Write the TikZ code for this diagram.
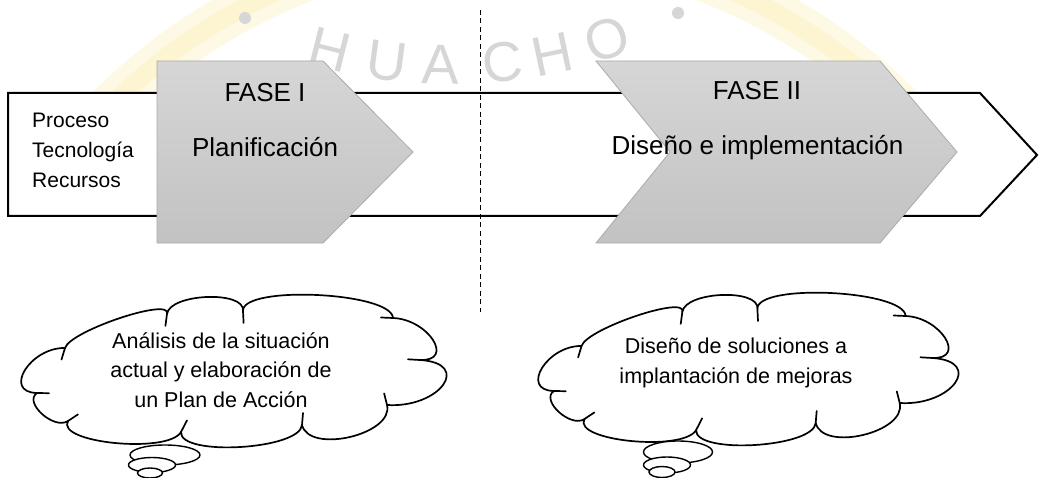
\documentclass[tikz,border=0pt]{standalone}
\usepackage{fontspec}
\setmainfont{Liberation Sans}
\usetikzlibrary{shapes.geometric,calc}
\definecolor{phasetop}{HTML}{D6D6D6}
\definecolor{phasebot}{HTML}{C2C2C2}
\definecolor{phaseedge}{HTML}{ABABAB}
\definecolor{wmgray}{HTML}{D6D6D6}
\definecolor{wmyellow}{HTML}{FEF9E4}
\definecolor{wmyellowin}{HTML}{FDF4D2}
\begin{document}
\begin{tikzpicture}[x=1pt,y=1pt,
  bigarrow/.style={draw=black, line width=2pt, fill=white, line join=miter},
  phase/.style={draw=phaseedge, line width=0.8pt, top color=phasetop, bottom color=phasebot},
  phasetitle/.style={font=\fontsize{26}{30}\selectfont, anchor=base, inner sep=0pt},
  sidetext/.style={font=\fontsize{21}{30}\selectfont, align=left, inner sep=0pt},
  cloudline/.style={draw=black, line width=1.7pt, fill=white, line join=round},
  tickline/.style={draw=black, line width=1.7pt, line cap=round},
  cloudtext/.style={font=\fontsize{21.5}{29.5}\selectfont, align=center, inner sep=0pt, anchor=base},
  bubble/.style={ellipse, draw=black, line width=1.4pt, fill=white, inner sep=0pt},
  divider/.style={draw=black, line width=0.9pt, dash pattern=on 5pt off 3.5pt},
  wmletter/.style={font=\fontsize{56}{60}\selectfont, text=wmgray, anchor=base, inner sep=0pt},
  wmdot/.style={circle, fill=wmgray, inner sep=0pt, minimum size=12pt},
  glow/.style={draw=wmyellow, line width=44pt},
  glowcore/.style={draw=wmyellowin, line width=18pt},
  thoughtcloud/.pic={
    \draw[cloudline] (-170,23)
      .. controls (-164.7,40.3) and (-62.7,74.3) .. (-68,57)
      .. controls (-65.3,77.7) and (10.7,80.7) .. (8,60)
      .. controls (6.7,86) and (156.7,79) .. (158,53)
      .. controls (193.3,51.7) and (220.3,9.7) .. (185,11)
      .. controls (237.7,7.7) and (204.7,-37.3) .. (152,-34)
      .. controls (159.3,-63.3) and (74.3,-83.3) .. (67,-54)
      .. controls (65,-78.7) and (-56,-85.7) .. (-54,-61)
      .. controls (-66.7,-83) and (-179.7,-72) .. (-167,-50)
      .. controls (-181,-59.3) and (-212,-31.3) .. (-198,-22)
      .. controls (-232.7,-21.3) and (-204.7,23.7) .. (-170,23) -- cycle;
    \draw[tickline] (-170,23) -- (-173.5,11.5);
    \draw[tickline] (-68,57) -- (-69.6,45.1);
    \draw[tickline] (8,60) -- (8.6,48);
    \draw[tickline] (158,53) -- (146,53.5);
    \draw[tickline] (185,11) -- (173,11.7);
    \draw[tickline] (152,-34) -- (149.1,-22.4);
    \draw[tickline] (67,-54) -- (68,-42);
    \draw[tickline] (-54,-61) -- (-48,-49.4);
    \draw[tickline] (-167,-50) -- (-157,-43.4);
    \draw[tickline] (-198,-22) -- (-186,-22.2);
  }
]
\useasboundingbox[fill=white] (0,0) rectangle (1040,-478);

% watermark
\begin{scope}
\clip (0,0) rectangle (1040,-478);
\draw[glow] (505,-503) ++(140:560) arc[start angle=140, end angle=40, radius=560];
\draw[glowcore] (505,-503) ++(140:560) arc[start angle=140, end angle=40, radius=560];
\end{scope}
\foreach \l/\d [count=\i] in {H/-14.2, U/-7.4, A/-1.2, C/6.0, H/11.8, O/18.4}
  \node[wmletter, rotate=\d] (wm\i) at ($(451,431)+(-90+\d:515)$) {\l};
\node[wmdot] (wmdotA) at (245,-18) {};
\node[wmdot] (wmdotB) at (678,-13) {};

% main process arrow
\draw[bigarrow] (8,-93) -- (980,-93) -- (1037,-155) -- (980,-216) -- (8,-216) -- cycle;

% phases
\draw[phase] (157,-61) -- (323,-61) -- (413,-152) -- (323,-243) -- (157,-243) -- cycle;
\draw[phase] (596,-61) -- (880,-61) -- (957,-152) -- (880,-243) -- (596,-243) -- (670,-152) -- cycle;

\node[sidetext, anchor=base west] (side) at (32,-188) {Proceso\\Tecnología\\Recursos};
\node[phasetitle] (f1) at (265,-102) {FASE I};
\node[phasetitle] (p1) at (265,-157) {Planificación};
\node[phasetitle] (f2) at (757,-100) {FASE II};
\node[phasetitle] (p2) at (757.5,-155) {Diseño e implementación};

% divider
\coordinate (dtop) at (480,-10);
\coordinate (dbot) at (480,-312);
\draw[divider] (dtop) -- (dbot);

% clouds
\pic at (235,-371) {thoughtcloud};
\node[bubble, minimum width=70pt, minimum height=20pt] (bubA1) at (165,-455) {};
\node[bubble, minimum width=47pt, minimum height=15pt] (bubA2) at (152,-465) {};
\node[bubble, minimum width=25pt, minimum height=10pt] (bubA3) at (150,-473) {};
\node[cloudtext] (txtA) at (221,-407) {Análisis de la situación\\actual y elaboración de\\un Plan de Acción};

\pic[xscale=0.988] at (749.5,-369) {thoughtcloud};
\node[bubble, minimum width=69pt, minimum height=22pt] (bubB1) at (678,-452) {};
\node[bubble, minimum width=47pt, minimum height=16pt] (bubB2) at (667,-465) {};
\node[bubble, minimum width=26pt, minimum height=11pt] (bubB3) at (662,-472) {};
\node[cloudtext] (txtB) at (736,-383) {Diseño de soluciones a\\implantación de mejoras};
\end{tikzpicture}
\end{document}
